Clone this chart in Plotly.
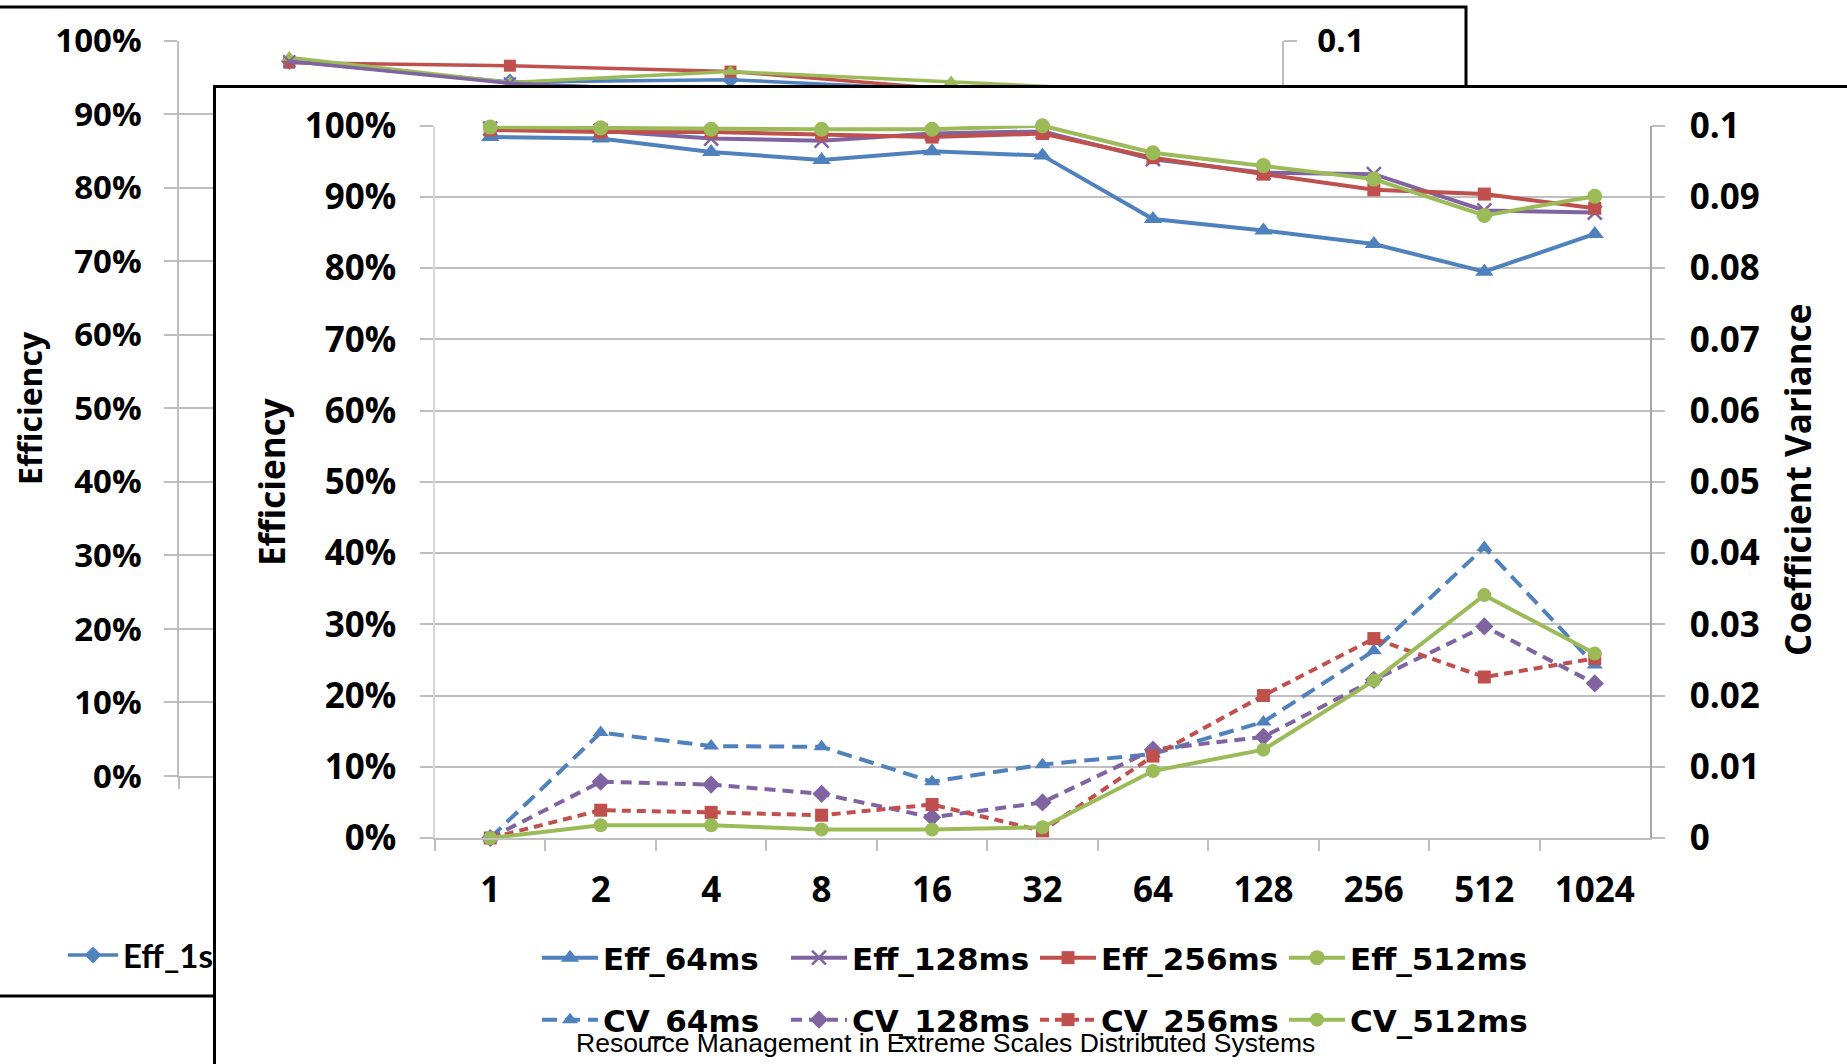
import plotly.graph_objects as go

W, H = 1847, 1064

# ---------------- data: foreground chart ----------------
fg_categories = ["1", "2", "4", "8", "16", "32", "64", "128", "256", "512", "1024"]
eff_64 = [0.984, 0.982, 0.963, 0.952, 0.964, 0.958, 0.869, 0.853, 0.834, 0.795, 0.848]
eff_128 = [0.996, 0.993, 0.982, 0.979, 0.989, 0.992, 0.953, 0.934, 0.932, 0.881, 0.878]
eff_256 = [0.994, 0.991, 0.991, 0.988, 0.984, 0.989, 0.955, 0.932, 0.910, 0.904, 0.884]
eff_512 = [0.998, 0.997, 0.995, 0.995, 0.995, 1.000, 0.962, 0.944, 0.925, 0.874, 0.901]
cv_64 = [0.0, 0.0148, 0.0129, 0.0128, 0.0079, 0.0103, 0.0118, 0.0163, 0.0263, 0.0408, 0.0243]
cv_128 = [0.0, 0.0079, 0.0075, 0.0062, 0.0029, 0.0050, 0.0124, 0.0142, 0.0222, 0.0297, 0.0217]
cv_256 = [0.0, 0.0039, 0.0036, 0.0032, 0.0047, 0.0010, 0.0115, 0.0200, 0.0280, 0.0226, 0.0252]
cv_512 = [0.0, 0.0018, 0.0018, 0.0012, 0.0012, 0.0015, 0.0094, 0.0124, 0.0221, 0.0341, 0.0259]

# ---------------- data: background chart (mostly hidden) ----------------
bg_categories = ["1", "2", "4", "8", "16"]
eff_1s = [0.972, 0.944, 0.947, 0.933, 0.925]
eff_2s = [0.970, 0.966, 0.958, 0.934, 0.920]
eff_4s = [0.977, 0.943, 0.958, 0.944, 0.930]
eff_8s = [0.972, 0.942, 0.930, 0.925, 0.910]

watermark = "Resource Management in Extreme Scales Distributed Systems"

BLUE, RED, GREEN, PURPLE = "#4F81BD", "#C0504D", "#9BBB59", "#8064A2"
GRID = "#bfbfbf"
FONT = "Open Sans, Lato, sans-serif"
LEGFONT = "DejaVu Sans, Open Sans, sans-serif"


def px_x(p):
    return p / W


def px_y(p):
    return 1 - p / H


fig = go.Figure()

# ---- background chart traces (subplot xy) ----
bg_series = [
    ("Eff_1s", eff_1s, BLUE, dict(symbol="diamond", size=13), True),
    ("Eff_2s", eff_2s, RED, dict(symbol="square", size=12), False),
    ("Eff_4s", eff_4s, GREEN, dict(symbol="triangle-up", size=13), False),
    ("Eff_8s", eff_8s, PURPLE, dict(symbol="x-thin", size=12, line=dict(width=2, color=PURPLE)), False),
]
for name, vals, col, mk, show in bg_series:
    mk = dict(mk)
    mk["color"] = col
    fig.add_trace(go.Scatter(
        x=bg_categories, y=vals, name=name, mode="lines+markers",
        line=dict(color=col, width=3.5), marker=mk,
        xaxis="x", yaxis="y", legend="legend3", showlegend=show, cliponaxis=False,
    ))
# empty trace so the background secondary axis is drawn
fig.add_trace(go.Scatter(x=[None], y=[None], xaxis="x", yaxis="y2", showlegend=False, hoverinfo="skip"))
# empty trace for the foreground frame (white box covering the background)
fig.add_trace(go.Scatter(x=[None], y=[None], xaxis="x2", yaxis="y3", showlegend=False, hoverinfo="skip"))

# ---- foreground chart traces ----
fg_eff = [
    ("Eff_64ms", eff_64, BLUE, dict(symbol="triangle-up", size=16)),
    ("Eff_128ms", eff_128, PURPLE, dict(symbol="x-thin", size=14, line=dict(width=2.5, color=PURPLE))),
    ("Eff_256ms", eff_256, RED, dict(symbol="square", size=13)),
    ("Eff_512ms", eff_512, GREEN, dict(symbol="circle", size=15)),
]
for name, vals, col, mk in fg_eff:
    mk = dict(mk)
    mk["color"] = col
    fig.add_trace(go.Scatter(
        x=fg_categories, y=vals, name=name, mode="lines+markers",
        line=dict(color=col, width=4), marker=mk,
        xaxis="x3", yaxis="y4", legend="legend", cliponaxis=False,
    ))

fg_cv = [
    ("CV_64ms", cv_64, BLUE, dict(symbol="triangle-up", size=14), "15px,8px"),
    ("CV_128ms", cv_128, PURPLE, dict(symbol="diamond", size=14), "11px,7px"),
    ("CV_256ms", cv_256, RED, dict(symbol="square", size=13), "9px,6px"),
    ("CV_512ms", cv_512, GREEN, dict(symbol="circle", size=14), "solid"),
]
for name, vals, col, mk, dash in fg_cv:
    mk = dict(mk)
    mk["color"] = col
    fig.add_trace(go.Scatter(
        x=fg_categories, y=vals, name=name, mode="lines+markers",
        line=dict(color=col, width=4, dash=dash), marker=mk,
        xaxis="x3", yaxis="y5", legend="legend2", cliponaxis=False,
    ))

tick_bg = dict(family=FONT, size=33, color="black", weight="bold")
tick_fg = dict(family=FONT, size=35, color="black", weight="bold")
legend_common = dict(
    orientation="h", xref="paper", yref="paper", xanchor="left", yanchor="middle",
    bgcolor="rgba(0,0,0,0)", borderwidth=0, entrywidthmode="pixels",
    font=dict(family=LEGFONT, size=31, color="black", weight="bold"),
)

fig.update_layout(
    width=W, height=H, autosize=False,
    margin=dict(l=0, r=0, t=0, b=0, pad=0, autoexpand=False),
    paper_bgcolor="white", plot_bgcolor="white",
    # background chart axes
    xaxis=dict(domain=[px_x(179), px_x(1282)], anchor="y", type="category", range=[-0.5, 4.5],
               automargin=False,
               showgrid=False, zeroline=False, showline=True, linecolor=GRID, linewidth=1.5,
               ticks="outside", tickson="boundaries", ticklen=11, tickcolor=GRID, tickwidth=1.5,
               tickfont=tick_bg),
    yaxis=dict(domain=[px_y(776), px_y(40.7)], anchor="x", range=[0, 1], dtick=0.1, automargin=False,
               tickformat=".0%", showgrid=True, gridcolor=GRID, gridwidth=1.5, zeroline=False,
               showline=True, linecolor=GRID, linewidth=1.5,
               ticks="outside", ticklen=13, tickcolor=GRID, tickwidth=1.5,
               tickfont=tick_bg, ticklabelstandoff=16),
    yaxis2=dict(overlaying="y", side="right", anchor="x", range=[0, 0.1], dtick=0.01, automargin=False,
                showgrid=False, zeroline=False, showline=True, linecolor=GRID, linewidth=1.5,
                ticks="outside", ticklen=13, tickcolor=GRID, tickwidth=1.5,
                tickfont=tick_bg, ticklabelstandoff=14),
    # white frame of the foreground chart
    xaxis2=dict(domain=[px_x(216), 1.0], anchor="y3", range=[0, 1], side="top", automargin=False,
                showgrid=False, zeroline=False, showticklabels=False, ticks="",
                showline=True, linecolor="black", linewidth=3),
    yaxis3=dict(domain=[0.0, px_y(88)], anchor="x2", range=[0, 1], side="left", automargin=False,
                showgrid=False, zeroline=False, showticklabels=False, ticks="",
                showline=True, linecolor="black", linewidth=3),
    # foreground chart axes
    xaxis3=dict(domain=[px_x(435), px_x(1650)], anchor="y4", type="category", range=[-0.5, 10.5],
                automargin=False,
                showgrid=False, zeroline=False, showline=True, linecolor=GRID, linewidth=1.5,
                ticks="outside", tickson="boundaries", ticklen=11, tickcolor=GRID, tickwidth=1.5,
                tickfont=tick_fg, ticklabelstandoff=20),
    yaxis4=dict(domain=[px_y(838), px_y(125.7)], anchor="x3", range=[0, 1], dtick=0.1, automargin=False,
                tickformat=".0%", showgrid=True, gridcolor=GRID, gridwidth=1.5, zeroline=False,
                showline=True, linecolor="#d9d9d9", linewidth=1.5,
                ticks="outside", ticklen=13, tickcolor=GRID, tickwidth=1.5,
                tickfont=tick_fg, ticklabelstandoff=17),
    yaxis5=dict(overlaying="y4", side="right", anchor="x3", range=[0, 0.1], dtick=0.01, automargin=False,
                showgrid=False, zeroline=False, showline=True, linecolor="#a6a6a6", linewidth=1.5,
                ticks="outside", ticklen=13, tickcolor=GRID, tickwidth=1.5,
                tickfont=tick_fg, ticklabelstandoff=18),
    legend=dict(legend_common, x=px_x(537), y=px_y(958), itemwidth=56, entrywidth=178),
    legend2=dict(legend_common, x=px_x(537), y=px_y(1020), itemwidth=56, entrywidth=178),
    legend3=dict(legend_common, x=px_x(63), y=px_y(955), itemwidth=50,
                 font=dict(family="Lato, Open Sans, sans-serif", size=33, color="black", weight="bold")),
    showlegend=True,
)

# outer frame of the background chart (drawn beneath all subplots)
fig.add_shape(type="rect", xref="paper", yref="paper", layer="below",
              x0=-0.01, x1=px_x(1466), y0=px_y(996), y1=px_y(7),
              line=dict(color="black", width=3), fillcolor="rgba(0,0,0,0)")

title_font = dict(family=FONT, color="black", weight="bold")
fig.add_annotation(text="Efficiency", x=px_x(30), y=px_y(408), xref="paper", yref="paper",
                   textangle=-90, showarrow=False, xanchor="center", yanchor="middle",
                   font=dict(title_font, size=32))
fig.add_annotation(text="Efficiency", x=px_x(272), y=px_y(482), xref="paper", yref="paper",
                   textangle=-90, showarrow=False, xanchor="center", yanchor="middle",
                   font=dict(title_font, size=35))
fig.add_annotation(text="Coefficient Variance", x=px_x(1797), y=px_y(480), xref="paper", yref="paper",
                   textangle=-90, showarrow=False, xanchor="center", yanchor="middle",
                   font=dict(title_font, size=35))
fig.add_annotation(text=watermark, x=px_x(945), y=px_y(1043), xref="paper", yref="paper",
                   showarrow=False, xanchor="center", yanchor="middle",
                   font=dict(family="Liberation Sans, Arial, sans-serif", size=26.5, color="black"))

fig.write_html("out.html", config={"displayModeBar": False},
               post_script="document.body.style.margin='0';document.body.style.overflow='hidden';")
